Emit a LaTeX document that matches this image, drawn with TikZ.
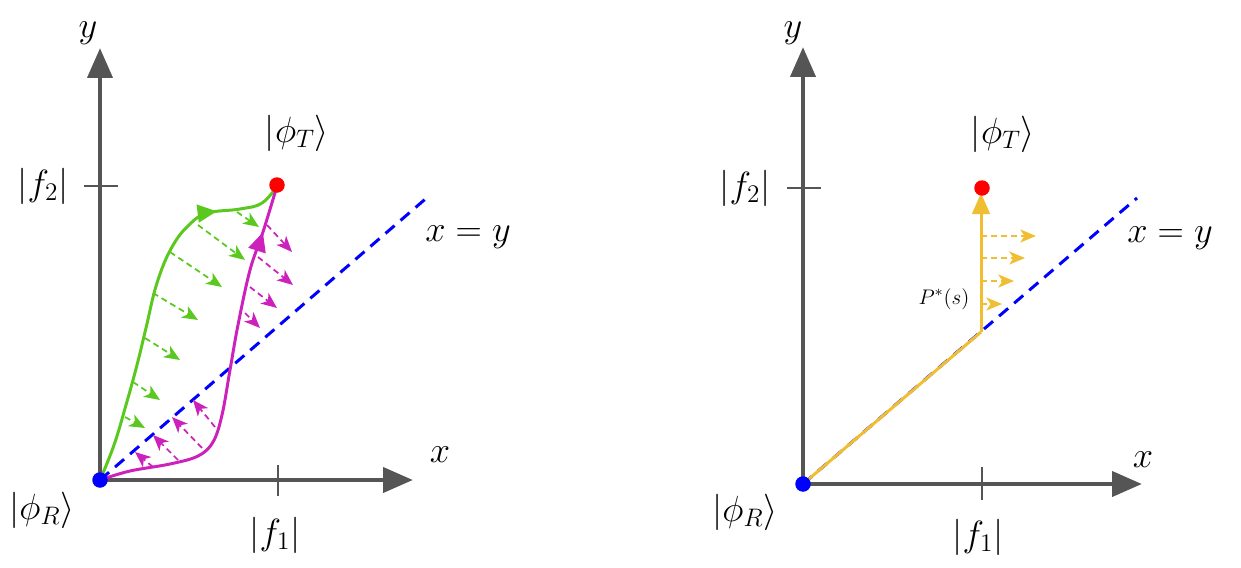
\documentclass[tikz,border=0pt]{standalone}
\usetikzlibrary{arrows.meta,decorations.markings}
\definecolor{axgray}{RGB}{85,85,85}
\definecolor{pgreen}{RGB}{90,200,30}
\definecolor{pmag}{RGB}{204,34,187}
\definecolor{diagblue}{RGB}{0,0,255}
\definecolor{pyel}{RGB}{240,190,50}
\begin{document}
\begin{tikzpicture}[x=0.02cm,y=-0.02cm,
  axis/.style={draw=axgray, line width=2.8pt, -{Triangle[length=17pt,width=14pt]}},
  tickline/.style={draw=axgray, line width=0.9pt},
  lab/.style={font=\fontsize{21}{25}\selectfont, inner sep=0pt},
  smalllab/.style={font=\fontsize{12.5}{15}\selectfont, inner sep=0pt},
  dot/.style={circle, inner sep=0pt, minimum size=0.31cm},
  diag/.style={draw=diagblue, line width=1.7pt, dash pattern=on 6.8pt off 4.5pt},
  field/.style={line width=1pt, dash pattern=on 3.4pt off 2.3pt, -{Stealth[length=9pt,width=7.5pt,inset=2.5pt]}},
  garr/.style={field, draw=pgreen},
  marr/.style={field, draw=pmag},
  yarr/.style={field, draw=pyel},
  curve/.style={line width=1.7pt, postaction={decorate}},
]
\useasboundingbox (0,0) rectangle (1241,568);

% ---------------- left panel ----------------
\coordinate (O1) at (100,480);
\coordinate (Y1) at (100,48);
\coordinate (X1) at (413,480);
\draw[axis] (O1) -- (Y1);
\draw[axis] (O1) -- (X1);
\coordinate (t2a) at (84,186); \coordinate (t2b) at (118,186);
\coordinate (t1a) at (278,465); \coordinate (t1b) at (278,496);
\draw[tickline] (t2a) -- (t2b);
\draw[tickline] (t1a) -- (t1b);
\coordinate (D1) at (430,195);
\draw[diag] (O1) -- (D1);

% green path
\draw[curve, draw=pgreen, decoration={markings, mark=at position 0.815 with {\arrow[pgreen]{Triangle[length=11pt,width=10pt]}}}]
  plot[smooth, tension=0.7] coordinates {(100,480) (114,445) (126,405) (137,365) (146,328) (157,283) (172,247) (190,224) (208,213) (240,209) (262,203) (277,186)};
% magenta path
\draw[curve, draw=pmag, decoration={markings, mark=at position 0.875 with {\arrow[pmag]{Triangle[length=11pt,width=10pt]}}}]
  plot[smooth, tension=0.6] coordinates {(100,480) (130,471) (170,464) (198,456) (213,442) (222,415) (230,370) (238,325) (250,270) (263,232) (277,186)};

% green field arrows
\coordinate (ga1) at (237,212); \coordinate (gb1) at (259,227);
\coordinate (ga2) at (198,225); \coordinate (gb2) at (245,260);
\coordinate (ga3) at (170,252); \coordinate (gb3) at (222,287);
\coordinate (ga4) at (153,293); \coordinate (gb4) at (198,320);
\coordinate (ga5) at (145,338); \coordinate (gb5) at (180,360);
\coordinate (ga6) at (133,382); \coordinate (gb6) at (160,400);
\coordinate (ga7) at (125,417); \coordinate (gb7) at (145,428);
\foreach \i in {1,...,7} \draw[garr] (ga\i) -- (gb\i);

% magenta field arrows (above diagonal)
\coordinate (ma1) at (267,225); \coordinate (mb1) at (292,252);
\coordinate (ma2) at (258,257); \coordinate (mb2) at (293,285);
\coordinate (ma3) at (250,287); \coordinate (mb3) at (277,308);
\coordinate (ma4) at (245,313); \coordinate (mb4) at (260,328);
\foreach \i in {1,...,4} \draw[marr] (ma\i) -- (mb\i);
% magenta field arrows (below diagonal)
\coordinate (mc1) at (215,427); \coordinate (md1) at (193,400);
\coordinate (mc2) at (202,448); \coordinate (md2) at (172,417);
\coordinate (mc3) at (178,460); \coordinate (md3) at (153,435);
\coordinate (mc4) at (153,467); \coordinate (md4) at (135,452);
\foreach \i in {1,...,4} \draw[marr] (mc\i) -- (md\i);

\node[dot, fill=red] (T1) at (277,185) {};
\node[dot, fill=diagblue] (R1) at (100,480) {};

\node[lab] (ly1) at (88,33) {$y$};
\node[lab] (lx1) at (440,455) {$x$};
\node[lab] (lf21) at (43,186) {$|f_2|$};
\node[lab] (lf11) at (275,535) {$|f_1|$};
\node[lab] (lR1) at (42,510) {$|\phi_R\rangle$};
\node[lab] (lT1) at (297,133) {$|\phi_T\rangle$};
\node[lab] (lxy1) at (468,237) {$x=y$};

% ---------------- right panel ----------------
\coordinate (O2) at (803,484);
\coordinate (Y2) at (803,47);
\coordinate (X2) at (1142,484);
\draw[axis] (O2) -- (Y2);
\draw[axis] (O2) -- (X2);
\coordinate (s2a) at (787,188); \coordinate (s2b) at (821,188);
\coordinate (s1a) at (982,467); \coordinate (s1b) at (982,500);
\draw[tickline] (s2a) -- (s2b);
\draw[tickline] (s1a) -- (s1b);
\coordinate (D2) at (1137,198);
\draw[diag] (O2) -- (D2);

\coordinate (K) at (981,332);
\coordinate (Tip) at (981,193);
\draw[draw=pyel, line width=1.7pt, line join=round] (O2) -- (K);
\draw[draw=pyel, line width=1.7pt, -{Triangle[length=12pt,width=10pt]}] (K) -- (Tip);

\coordinate (ya1) at (981,236); \coordinate (yb1) at (1036,236);
\coordinate (ya2) at (981,258); \coordinate (yb2) at (1025,258);
\coordinate (ya3) at (981,281); \coordinate (yb3) at (1014,281);
\coordinate (ya4) at (981,304); \coordinate (yb4) at (1002,304);
\foreach \i in {1,...,4} \draw[yarr] (ya\i) -- (yb\i);

\node[dot, fill=red] (T2) at (982,188) {};
\node[dot, fill=diagblue] (R2) at (803,484) {};

\node[smalllab] (lP) at (944,299) {$P^{*}(s)$};
\node[lab] (ly2) at (793,33) {$y$};
\node[lab] (lx2) at (1143,460) {$x$};
\node[lab] (lf22) at (745,188) {$|f_2|$};
\node[lab] (lf12) at (978,537) {$|f_1|$};
\node[lab] (lR2) at (745,512) {$|\phi_R\rangle$};
\node[lab] (lT2) at (1003,134) {$|\phi_T\rangle$};
\node[lab] (lxy2) at (1170,238) {$x=y$};
\end{tikzpicture}
\end{document}
